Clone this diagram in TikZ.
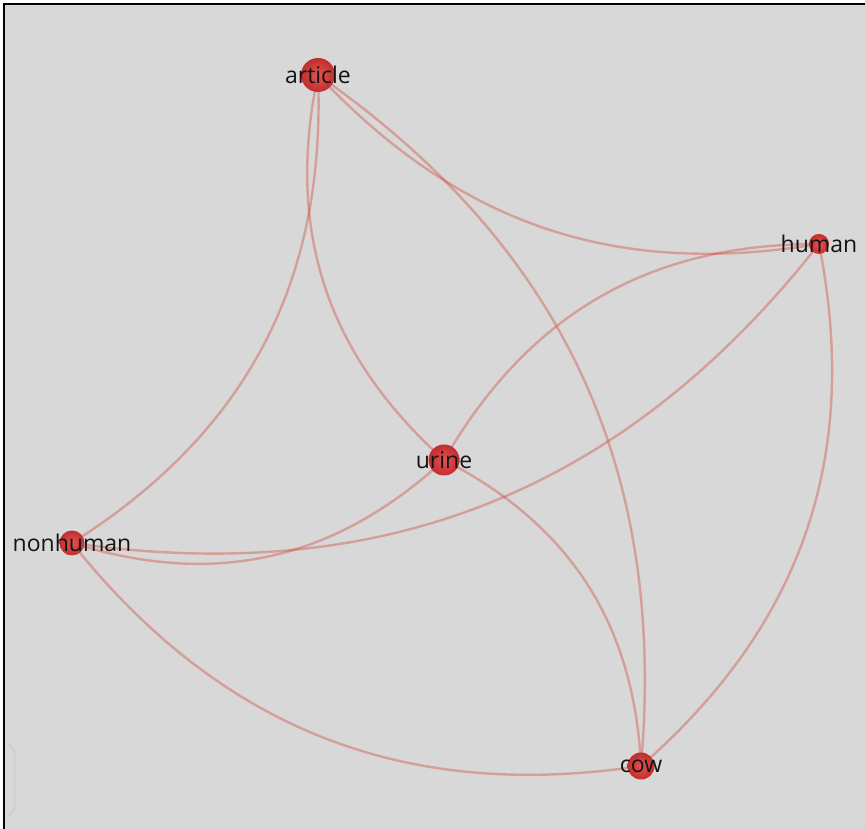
\documentclass[tikz,border=0pt]{standalone}
\usepackage{fontspec}
\setmainfont{Open Sans}
\usepackage{tikz}
\usetikzlibrary{backgrounds}
\definecolor{canvasgray}{RGB}{216,216,216}
\definecolor{linkred}{RGB}{208,78,68}
\tikzset{
  termdot/.style={
    circle,
    draw=none,
    inner sep=0pt,
    shading=radial,
    inner color={rgb,255:red,230;green,82;blue,82},
    outer color={rgb,255:red,192;green,46;blue,46}
  },
  termlabel/.style={
    font=\fontsize{23}{27}\selectfont,
    text=black!92,
    inner sep=0pt
  },
  termlink/.style={
    draw=linkred,
    draw opacity=0.42,
    line width=2.4pt
  }
}

\begin{document}
\begin{tikzpicture}[
    x=1pt, y=1pt
    ]
    \useasboundingbox (0,0) rectangle (865,829);

    \node[termdot, minimum size=34pt, label={[termlabel]center:article}] (article) at (318,754) {};
    \node[termdot, minimum size=20pt, label={[termlabel]center:human}] (human) at (819,585) {};
    \node[termdot, minimum size=31pt, label={[termlabel]center:urine}] (urine) at (444,369) {};
    \node[termdot, minimum size=25pt, label={[termlabel]center:nonhuman}] (nonhuman) at (72,286) {};
    \node[termdot, minimum size=27pt, label={[termlabel]center:cow}] (cow) at (641,63) {};

    \begin{scope}[on background layer]
      \fill[canvasgray] (4,0) rectangle (865,825);
      \draw[line width=2.6pt] (4,0) -- (4,825) -- (865,825);
      \draw[black!22, line width=0.9pt, rounded corners=5pt]
        (9,85) -- (15,79) -- (15,19) -- (9,13);

      \draw[termlink] (article.center) to[bend right=30] (urine.center);
      \draw[termlink] (article.center) to[bend left=30] (nonhuman.center);
      \draw[termlink] (article.center) to[bend right=28] (human.center);
      \draw[termlink] (article.center) to[bend left=30] (cow.center);

      \draw[termlink] (human.center) to[bend right=30] (urine.center);
      \draw[termlink] (human.center) to[bend left=30] (nonhuman.center);
      \draw[termlink] (human.center) to[bend left=30] (cow.center);

      \draw[termlink] (urine.center) to[bend left=30] (nonhuman.center);
      \draw[termlink] (urine.center) to[bend left=30] (cow.center);

      \draw[termlink] (nonhuman.center) to[bend right=30] (cow.center);
    \end{scope}

    \end{tikzpicture}
\end{document}
